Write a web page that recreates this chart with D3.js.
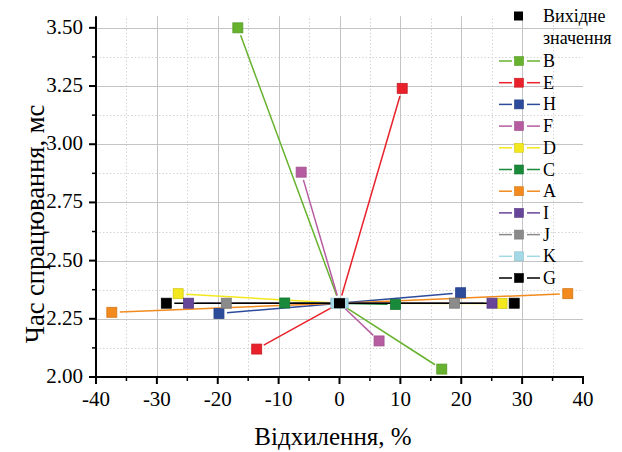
<!DOCTYPE html>
<html><head><meta charset="utf-8">
<script src="https://cdn.jsdelivr.net/npm/d3@7"></script>
<style>
body{margin:0;background:#fff;}
svg{display:block;}
</style></head>
<body><svg id="c" width="622" height="452"></svg>
<script>
// ---- data ----
const seriesNames = ["B","E","H","F","D","C","A","I","J","K","G"];
const seriesColors = ["#66b22e","#e8212b","#2d4b9b","#b65da2","#f3e81d","#19893a","#f38a1d","#674599","#8b8b8b","#a3d9e6","#000000"];
// each series: negative deviation point, base point, positive deviation point
const devLeft  = [-16.7, -13.6, -19.8, -6.3, -26.5, -9.0, -37.4, -24.8, -18.6, -0.6, -28.45];
const timeLeft = [3.50, 2.12, 2.273, 2.88, 2.358, 2.318, 2.278, 2.317, 2.317, 2.317, 2.317];
const devRight = [16.8, 10.3, 19.9, 6.5, 26.7, 9.2, 37.5, 25.05, 18.9, 0.6, 28.7];
const timeRight= [2.034, 3.24, 2.362, 2.155, 2.316, 2.312, 2.358, 2.317, 2.317, 2.317, 2.317];
const baseDev = 0, baseTime = 2.317;
const baseLabel = ["Вихідне", "значення"];
const xTicks = [-40,-30,-20,-10,0,10,20,30,40];
const yTicks = [2.00,2.25,2.50,2.75,3.00,3.25,3.50];
const xMinor = [-35,-25,-15,-5,5,15,25,35];
const yMinor = [2.125,2.375,2.625,2.875,3.125,3.375];
const xTitle = "Відхилення, %";
const yTitle = "Час спрацювання, мс";

// ---- layout ----
const FONT = "'Liberation Serif'";
const svg = d3.select("#c");
const x = d3.scaleLinear().domain([-40,40]).range([96,583]);
const y = d3.scaleLinear().domain([2.0,3.55]).range([377,16.2]);

// grid
const g = svg.append("g");
g.selectAll(".mnx").data(xMinor).join("line")
  .attr("x1",d=>Math.round(x(d))+0.5).attr("x2",d=>Math.round(x(d))+0.5).attr("y1",y.range()[0]).attr("y2",y.range()[1])
  .attr("stroke","#d4d4d4").attr("stroke-width",1).attr("stroke-dasharray","1.5,2");
g.selectAll(".mny").data(yMinor).join("line")
  .attr("y1",d=>Math.round(y(d))+0.5).attr("y2",d=>Math.round(y(d))+0.5).attr("x1",x.range()[0]).attr("x2",x.range()[1])
  .attr("stroke","#d4d4d4").attr("stroke-width",1).attr("stroke-dasharray","1.5,2");
g.selectAll(".mjx").data(xTicks.slice(1,-1)).join("line")
  .attr("x1",d=>Math.round(x(d))+0.5).attr("x2",d=>Math.round(x(d))+0.5).attr("y1",y.range()[0]).attr("y2",y.range()[1])
  .attr("stroke","#c4c4c4").attr("stroke-width",1);
g.selectAll(".mjy").data(yTicks.slice(1)).join("line")
  .attr("y1",d=>Math.round(y(d))+0.5).attr("y2",d=>Math.round(y(d))+0.5).attr("x1",x.range()[0]).attr("x2",x.range()[1])
  .attr("stroke","#c4c4c4").attr("stroke-width",1);

// series lines (with gap to symbol)
const GAP = 8;
function trimmed(p,q){
  const dx=q[0]-p[0], dy=q[1]-p[1], L=Math.hypot(dx,dy);
  if (L < 2*GAP) return null;
  const ux=dx/L, uy=dy/L;
  return [[p[0]+ux*GAP,p[1]+uy*GAP],[q[0]-ux*GAP,q[1]-uy*GAP]];
}
const series = seriesNames.map((n,i)=>({
  name:n, color:seriesColors[i],
  pts:[[devLeft[i],timeLeft[i]],[baseDev,baseTime],[devRight[i],timeRight[i]]]
}));
const plot = svg.append("g");
series.forEach(s=>{
  const px = s.pts.map(p=>[x(p[0]),y(p[1])]);
  for (let k=0;k<px.length-1;k++){
    const seg = trimmed(px[k],px[k+1]);
    if (!seg) continue;
    plot.append("line").attr("x1",seg[0][0]).attr("y1",seg[0][1]).attr("x2",seg[1][0]).attr("y2",seg[1][1])
      .attr("stroke",s.color).attr("stroke-width",1.5);
  }
});
const MS = 10;
series.forEach(s=>{
  plot.selectAll(null).data([s.pts[0],s.pts[2]]).join("rect")
    .attr("x",d=>x(d[0])-MS/2).attr("y",d=>y(d[1])-MS/2).attr("width",MS).attr("height",MS)
    .attr("fill",s.color).attr("stroke",d3.color(s.color).darker(0.4)).attr("stroke-width",0.8);
});
// base point
plot.append("rect").attr("x",x(baseDev)-5.5).attr("y",y(baseTime)-5).attr("width",11).attr("height",10)
  .attr("fill","#000");

// axes
const xAxis = svg.append("g").attr("transform",`translate(0,${y(2.0)})`);
xAxis.append("line").attr("x1",x(-40)-1).attr("x2",x(40)+1).attr("stroke","#000").attr("stroke-width",2);
xAxis.selectAll(".t").data(xTicks).join("line").attr("x1",d=>x(d)).attr("x2",d=>x(d)).attr("y1",0).attr("y2",7).attr("stroke","#000").attr("stroke-width",2);
xAxis.selectAll(".m").data(xMinor).join("line").attr("x1",d=>x(d)).attr("x2",d=>x(d)).attr("y1",0).attr("y2",4).attr("stroke","#000").attr("stroke-width",1.5);
xAxis.selectAll("text").data(xTicks).join("text").attr("x",d=>x(d)).attr("y",29).attr("text-anchor","middle")
  .style("font-family",FONT).style("font-size","21px").text(d=>d);

const yAxis = svg.append("g").attr("transform",`translate(${x(-40)},0)`);
yAxis.append("line").attr("y1",y.range()[1]).attr("y2",y(2.0)+1).attr("stroke","#000").attr("stroke-width",2);
yAxis.selectAll(".t").data(yTicks).join("line").attr("y1",d=>y(d)).attr("y2",d=>y(d)).attr("x1",0).attr("x2",-7).attr("stroke","#000").attr("stroke-width",2);
yAxis.selectAll(".m").data(yMinor).join("line").attr("y1",d=>y(d)).attr("y2",d=>y(d)).attr("x1",0).attr("x2",-4).attr("stroke","#000").attr("stroke-width",1.5);
yAxis.selectAll("text").data(yTicks).join("text").attr("x",-13).attr("y",d=>y(d)+6).attr("text-anchor","end")
  .style("font-family",FONT).style("font-size","21px").text(d=>d3.format(".2f")(d));

// titles
svg.append("text").attr("x",333).attr("y",445).attr("text-anchor","middle")
  .style("font-family",FONT).style("font-size","25px").text(xTitle);
svg.append("text").attr("transform","translate(44,224) rotate(-90)").attr("text-anchor","middle")
  .style("font-family",FONT).style("font-size","26.5px").text(yTitle);

// legend
const LF = "18px";
const lg = svg.append("g");
lg.append("rect").attr("x",514).attr("y",11.5).attr("width",9).attr("height",9).attr("fill","#000");
lg.append("text").attr("x",543).attr("y",21.5).style("font-family",FONT).style("font-size",LF).text(baseLabel[0]);
lg.append("text").attr("x",543).attr("y",43.5).style("font-family",FONT).style("font-size",LF).text(baseLabel[1]);
series.forEach((s,i)=>{
  const cy = 61 + i*21.7;
  lg.append("line").attr("x1",499).attr("x2",512).attr("y1",cy).attr("y2",cy).attr("stroke",s.color).attr("stroke-width",1.5);
  lg.append("line").attr("x1",527).attr("x2",540).attr("y1",cy).attr("y2",cy).attr("stroke",s.color).attr("stroke-width",1.5);
  lg.append("rect").attr("x",514.5).attr("y",cy-4.5).attr("width",9).attr("height",9).attr("fill",s.color)
    .attr("stroke",d3.color(s.color).darker(0.4)).attr("stroke-width",0.6);
  lg.append("text").attr("x",543).attr("y",cy+6).style("font-family",FONT).style("font-size",LF).text(s.name);
});
</script></body></html>
